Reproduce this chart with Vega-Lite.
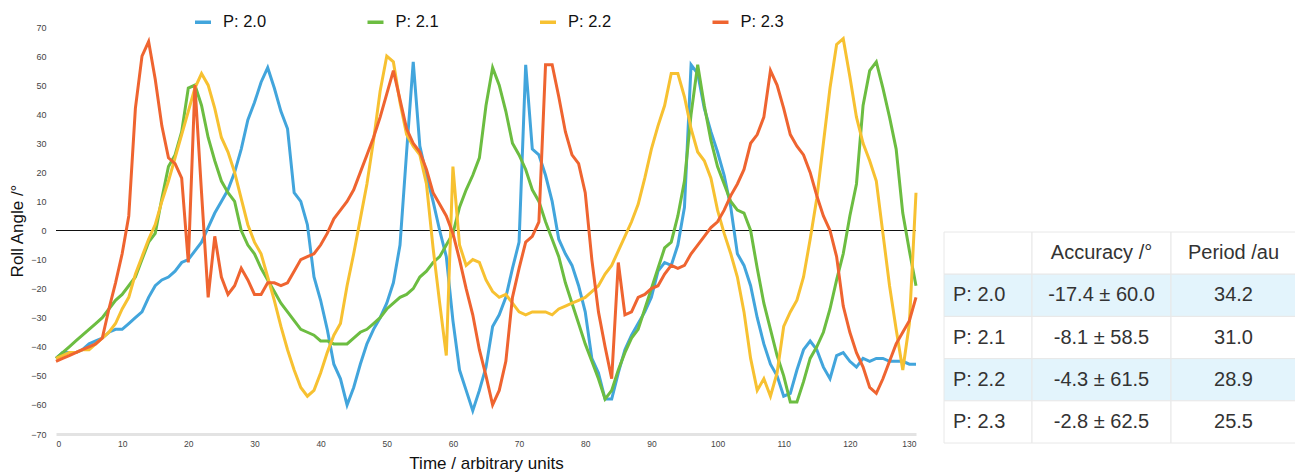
{
  "$schema": "https://vega.github.io/schema/vega-lite/v6.json",
  "padding": {"left": 8, "top": 12, "right": 0, "bottom": 0},
  "background": "white",
  "config": {
    "font": "Liberation Sans",
    "view": {"stroke": null},
    "axisX": {"domainColor": "#e3e3e3", "domainWidth": 3, "ticks": false, "grid": false, "labelFontSize": 8.5, "labelColor": "#444", "labelPadding": 5, "titleFontSize": 17, "titleFontWeight": "normal", "titleColor": "#111", "titlePadding": 8},
    "axisY": {"domain": false, "ticks": false, "grid": false, "labelFontSize": 9, "labelColor": "#444", "labelPadding": 10, "titleFontSize": 17, "titleFontWeight": "normal", "titleColor": "#111", "titlePadding": 4}
  },
  "datasets": {
    "roll": [
      {"t":0,"p20":-44,"p21":-44,"p22":-44,"p23":-45},
      {"t":1,"p20":-42,"p21":-42,"p22":-43,"p23":-44},
      {"t":2,"p20":-42,"p21":-40,"p22":-42,"p23":-43},
      {"t":3,"p20":-42,"p21":-38,"p22":-42,"p23":-42},
      {"t":4,"p20":-41,"p21":-36,"p22":-41,"p23":-41},
      {"t":5,"p20":-39,"p21":-34,"p22":-41,"p23":-40},
      {"t":6,"p20":-38,"p21":-32,"p22":-39,"p23":-39},
      {"t":7,"p20":-37,"p21":-30,"p22":-37,"p23":-37},
      {"t":8,"p20":-35,"p21":-27,"p22":-35,"p23":-27},
      {"t":9,"p20":-34,"p21":-24,"p22":-32,"p23":-18},
      {"t":10,"p20":-34,"p21":-22,"p22":-27,"p23":-8},
      {"t":11,"p20":-32,"p21":-19,"p22":-23,"p23":5},
      {"t":12,"p20":-30,"p21":-16,"p22":-15,"p23":42},
      {"t":13,"p20":-28,"p21":-10,"p22":-9,"p23":60},
      {"t":14,"p20":-23,"p21":-4,"p22":-3,"p23":65},
      {"t":15,"p20":-19,"p21":-1,"p22":2,"p23":52},
      {"t":16,"p20":-17,"p21":11,"p22":10,"p23":36},
      {"t":17,"p20":-16,"p21":22,"p22":17,"p23":25},
      {"t":18,"p20":-14,"p21":26,"p22":25,"p23":23},
      {"t":19,"p20":-11,"p21":34,"p22":33,"p23":18},
      {"t":20,"p20":-10,"p21":49,"p22":41,"p23":-11},
      {"t":21,"p20":-7,"p21":50,"p22":49,"p23":50},
      {"t":22,"p20":-4,"p21":43,"p22":54,"p23":13},
      {"t":23,"p20":1,"p21":32,"p22":50,"p23":-23},
      {"t":24,"p20":6,"p21":24,"p22":42,"p23":-2},
      {"t":25,"p20":10,"p21":17,"p22":32,"p23":-16},
      {"t":26,"p20":14,"p21":13,"p22":27,"p23":-22},
      {"t":27,"p20":20,"p21":10,"p22":20,"p23":-19},
      {"t":28,"p20":28,"p21":0,"p22":11,"p23":-13},
      {"t":29,"p20":38,"p21":-5,"p22":2,"p23":-17},
      {"t":30,"p20":44,"p21":-8,"p22":-4,"p23":-22},
      {"t":31,"p20":51,"p21":-13,"p22":-8,"p23":-22},
      {"t":32,"p20":56,"p21":-17,"p22":-16,"p23":-18},
      {"t":33,"p20":49,"p21":-21,"p22":-24,"p23":-18},
      {"t":34,"p20":41,"p21":-25,"p22":-33,"p23":-19},
      {"t":35,"p20":35,"p21":-28,"p22":-41,"p23":-18},
      {"t":36,"p20":13,"p21":-31,"p22":-48,"p23":-14},
      {"t":37,"p20":10,"p21":-34,"p22":-54,"p23":-10},
      {"t":38,"p20":2,"p21":-35,"p22":-57,"p23":-9},
      {"t":39,"p20":-16,"p21":-36,"p22":-55,"p23":-8},
      {"t":40,"p20":-24,"p21":-38,"p22":-49,"p23":-5},
      {"t":41,"p20":-34,"p21":-38,"p22":-42,"p23":-1},
      {"t":42,"p20":-46,"p21":-39,"p22":-36,"p23":4},
      {"t":43,"p20":-51,"p21":-39,"p22":-32,"p23":7},
      {"t":44,"p20":-60,"p21":-39,"p22":-19,"p23":10},
      {"t":45,"p20":-54,"p21":-37,"p22":-8,"p23":14},
      {"t":46,"p20":-46,"p21":-35,"p22":4,"p23":20},
      {"t":47,"p20":-39,"p21":-34,"p22":16,"p23":26},
      {"t":48,"p20":-34,"p21":-32,"p22":31,"p23":32},
      {"t":49,"p20":-30,"p21":-30,"p22":48,"p23":39},
      {"t":50,"p20":-25,"p21":-27,"p22":60,"p23":47},
      {"t":51,"p20":-18,"p21":-25,"p22":58,"p23":55},
      {"t":52,"p20":-5,"p21":-23,"p22":44,"p23":45},
      {"t":53,"p20":27,"p21":-22,"p22":33,"p23":35},
      {"t":54,"p20":58,"p21":-20,"p22":29,"p23":30},
      {"t":55,"p20":29,"p21":-16,"p22":26,"p23":27},
      {"t":56,"p20":19,"p21":-14,"p22":16,"p23":21},
      {"t":57,"p20":10,"p21":-11,"p22":-6,"p23":13},
      {"t":58,"p20":0,"p21":-9,"p22":-25,"p23":9},
      {"t":59,"p20":-9,"p21":-5,"p22":-43,"p23":5},
      {"t":60,"p20":-31,"p21":-1,"p22":22,"p23":-1},
      {"t":61,"p20":-48,"p21":8,"p22":-5,"p23":-10},
      {"t":62,"p20":-55,"p21":14,"p22":-12,"p23":-20},
      {"t":63,"p20":-62,"p21":19,"p22":-10,"p23":-29},
      {"t":64,"p20":-55,"p21":25,"p22":-11,"p23":-41},
      {"t":65,"p20":-47,"p21":43,"p22":-17,"p23":-50},
      {"t":66,"p20":-33,"p21":56,"p22":-21,"p23":-60},
      {"t":67,"p20":-29,"p21":50,"p22":-23,"p23":-55},
      {"t":68,"p20":-23,"p21":41,"p22":-22,"p23":-45},
      {"t":69,"p20":-13,"p21":30,"p22":-25,"p23":-23},
      {"t":70,"p20":-4,"p21":26,"p22":-28,"p23":-13},
      {"t":71,"p20":57,"p21":21,"p22":-29,"p23":-4},
      {"t":72,"p20":28,"p21":14,"p22":-28,"p23":-2},
      {"t":73,"p20":26,"p21":10,"p22":-28,"p23":3},
      {"t":74,"p20":19,"p21":3,"p22":-28,"p23":57},
      {"t":75,"p20":10,"p21":-3,"p22":-29,"p23":57},
      {"t":76,"p20":-3,"p21":-9,"p22":-27,"p23":46},
      {"t":77,"p20":-8,"p21":-18,"p22":-26,"p23":34},
      {"t":78,"p20":-12,"p21":-25,"p22":-25,"p23":26},
      {"t":79,"p20":-19,"p21":-32,"p22":-24,"p23":23},
      {"t":80,"p20":-28,"p21":-39,"p22":-23,"p23":13},
      {"t":81,"p20":-44,"p21":-45,"p22":-21,"p23":-10},
      {"t":82,"p20":-49,"p21":-51,"p22":-19,"p23":-28},
      {"t":83,"p20":-58,"p21":-58,"p22":-15,"p23":-40},
      {"t":84,"p20":-58,"p21":-55,"p22":-12,"p23":-51},
      {"t":85,"p20":-49,"p21":-48,"p22":-7,"p23":-11},
      {"t":86,"p20":-41,"p21":-42,"p22":-2,"p23":-29},
      {"t":87,"p20":-36,"p21":-37,"p22":3,"p23":-28},
      {"t":88,"p20":-32,"p21":-34,"p22":9,"p23":-23},
      {"t":89,"p20":-28,"p21":-27,"p22":18,"p23":-22},
      {"t":90,"p20":-23,"p21":-20,"p22":28,"p23":-20},
      {"t":91,"p20":-14,"p21":-13,"p22":36,"p23":-19},
      {"t":92,"p20":-11,"p21":-6,"p22":43,"p23":-15},
      {"t":93,"p20":-12,"p21":-4,"p22":54,"p23":-12},
      {"t":94,"p20":-5,"p21":5,"p22":54,"p23":-13},
      {"t":95,"p20":8,"p21":17,"p22":46,"p23":-12},
      {"t":96,"p20":57,"p21":40,"p22":35,"p23":-8},
      {"t":97,"p20":54,"p21":57,"p22":27,"p23":-5},
      {"t":98,"p20":42,"p21":43,"p22":24,"p23":-2},
      {"t":99,"p20":34,"p21":31,"p22":18,"p23":1},
      {"t":100,"p20":27,"p21":22,"p22":7,"p23":3},
      {"t":101,"p20":19,"p21":16,"p22":-1,"p23":7},
      {"t":102,"p20":8,"p21":10,"p22":-8,"p23":12},
      {"t":103,"p20":-8,"p21":7,"p22":-16,"p23":16},
      {"t":104,"p20":-12,"p21":6,"p22":-28,"p23":21},
      {"t":105,"p20":-19,"p21":0,"p22":-44,"p23":30},
      {"t":106,"p20":-30,"p21":-13,"p22":-55,"p23":33},
      {"t":107,"p20":-39,"p21":-25,"p22":-51,"p23":39},
      {"t":108,"p20":-46,"p21":-34,"p22":-57,"p23":55},
      {"t":109,"p20":-50,"p21":-43,"p22":-49,"p23":50},
      {"t":110,"p20":-57,"p21":-50,"p22":-33,"p23":42},
      {"t":111,"p20":-56,"p21":-59,"p22":-28,"p23":33},
      {"t":112,"p20":-48,"p21":-59,"p22":-24,"p23":29},
      {"t":113,"p20":-41,"p21":-52,"p22":-16,"p23":26},
      {"t":114,"p20":-38,"p21":-44,"p22":-3,"p23":20},
      {"t":115,"p20":-41,"p21":-40,"p22":11,"p23":12},
      {"t":116,"p20":-47,"p21":-35,"p22":30,"p23":5},
      {"t":117,"p20":-51,"p21":-27,"p22":49,"p23":0},
      {"t":118,"p20":-43,"p21":-17,"p22":64,"p23":-9},
      {"t":119,"p20":-42,"p21":-8,"p22":66,"p23":-26},
      {"t":120,"p20":-45,"p21":5,"p22":53,"p23":-35},
      {"t":121,"p20":-47,"p21":16,"p22":39,"p23":-42},
      {"t":122,"p20":-44,"p21":43,"p22":30,"p23":-47},
      {"t":123,"p20":-45,"p21":55,"p22":24,"p23":-54},
      {"t":124,"p20":-44,"p21":58,"p22":17,"p23":-56},
      {"t":125,"p20":-44,"p21":49,"p22":-1,"p23":-51},
      {"t":126,"p20":-45,"p21":39,"p22":-19,"p23":-45},
      {"t":127,"p20":-45,"p21":28,"p22":-34,"p23":-39},
      {"t":128,"p20":-45,"p21":6,"p22":-48,"p23":-35},
      {"t":129,"p20":-46,"p21":-7,"p22":-32,"p23":-31},
      {"t":130,"p20":-46,"p21":-19,"p22":13,"p23":-23}
    ],
    "tbl": [
      {"r":0,"name":"","acc":"Accuracy /°","per":"Period /au","shade":false},
      {"r":1,"name":"P: 2.0","acc":"-17.4 ± 60.0","per":"34.2","shade":true},
      {"r":2,"name":"P: 2.1","acc":"-8.1 ± 58.5","per":"31.0","shade":false},
      {"r":3,"name":"P: 2.2","acc":"-4.3 ± 61.5","per":"28.9","shade":true},
      {"r":4,"name":"P: 2.3","acc":"-2.8 ± 62.5","per":"25.5","shade":false}
    ]
  },
  "hconcat": [
    {
      "width": 860,
      "height": 407,
      "layer": [
        {
          "data": {"values": [{"zero": 0}]},
          "mark": {"type": "rule", "color": "#111", "strokeWidth": 1},
          "encoding": {
            "y": {"field": "zero", "type": "quantitative", "title": "Roll Angle /°", "scale": {"domain": [-70, 70], "nice": false}}
          }
        },
        {
          "data": {"name": "roll"},
          "mark": {"type": "line", "strokeWidth": 3},
          "encoding": {
            "x": {"field": "t", "type": "quantitative", "title": "Time / arbitrary units", "scale": {"domain": [0, 130], "nice": false}, "axis": {"tickCount": 13, "labelOverlap": false}},
            "y": {"field": "p20", "type": "quantitative", "title": "Roll Angle /°", "axis": {"tickCount": 14, "labelOverlap": false, "labelFontSize": 9}},
            "color": {
              "datum": "P: 2.0",
              "type": "nominal",
              "scale": {"domain": ["P: 2.0", "P: 2.1", "P: 2.2", "P: 2.3"], "range": ["#42a5dc", "#6cbd41", "#f7c131", "#ef6430"]},
              "legend": {"title": null, "orient": "none", "legendX": 137, "legendY": -15, "direction": "horizontal", "columns": 4, "columnPadding": 93.5, "symbolType": "stroke", "symbolSize": 256, "symbolStrokeWidth": 3.5, "labelFontSize": 16.5, "labelColor": "#111", "labelOffset": 10}
            }
          }
        },
        {
          "data": {"name": "roll"},
          "mark": {"type": "line", "strokeWidth": 3},
          "encoding": {
            "x": {"field": "t", "type": "quantitative", "title": "Time / arbitrary units"},
            "y": {"field": "p21", "type": "quantitative", "title": "Roll Angle /°"},
            "color": {"datum": "P: 2.1", "type": "nominal"}
          }
        },
        {
          "data": {"name": "roll"},
          "mark": {"type": "line", "strokeWidth": 3},
          "encoding": {
            "x": {"field": "t", "type": "quantitative", "title": "Time / arbitrary units"},
            "y": {"field": "p22", "type": "quantitative", "title": "Roll Angle /°"},
            "color": {"datum": "P: 2.2", "type": "nominal"}
          }
        },
        {
          "data": {"name": "roll"},
          "mark": {"type": "line", "strokeWidth": 3},
          "encoding": {
            "x": {"field": "t", "type": "quantitative", "title": "Time / arbitrary units"},
            "y": {"field": "p23", "type": "quantitative", "title": "Roll Angle /°"},
            "color": {"datum": "P: 2.3", "type": "nominal"}
          }
        }
      ]
    },
    {
      "spacing": 0,
      "bounds": "flush",
      "hconcat": [
        {
          "width": 88,
          "height": 416,
          "data": {"name": "tbl"},
          "encoding": {
            "y": {"field": "r", "type": "ordinal", "axis": null, "scale": {"type": "band", "paddingInner": 0, "paddingOuter": 0, "range": [205, 416]}}
          },
          "layer": [
            {"mark": {"type": "rect", "stroke": "#e8e8e8", "strokeWidth": 1}, "encoding": {"fill": {"condition": {"test": "datum.shade", "value": "#e3f4fc"}, "value": "#ffffff"}}},
            {"mark": {"type": "text", "align": "left", "dx": -35, "fontSize": 20, "color": "#333"}, "encoding": {"text": {"field": "name"}}}
          ]
        },
        {
          "width": 139,
          "height": 416,
          "data": {"name": "tbl"},
          "encoding": {
            "y": {"field": "r", "type": "ordinal", "axis": null, "scale": {"type": "band", "paddingInner": 0, "paddingOuter": 0, "range": [205, 416]}}
          },
          "layer": [
            {"mark": {"type": "rect", "stroke": "#e8e8e8", "strokeWidth": 1}, "encoding": {"fill": {"condition": {"test": "datum.shade", "value": "#e3f4fc"}, "value": "#ffffff"}}},
            {"mark": {"type": "text", "align": "center", "fontSize": 20, "color": "#333"}, "encoding": {"text": {"field": "acc"}}}
          ]
        },
        {
          "width": 125,
          "height": 416,
          "data": {"name": "tbl"},
          "encoding": {
            "y": {"field": "r", "type": "ordinal", "axis": null, "scale": {"type": "band", "paddingInner": 0, "paddingOuter": 0, "range": [205, 416]}}
          },
          "layer": [
            {"mark": {"type": "rect", "stroke": "#e8e8e8", "strokeWidth": 1}, "encoding": {"fill": {"condition": {"test": "datum.shade", "value": "#e3f4fc"}, "value": "#ffffff"}}},
            {"mark": {"type": "text", "align": "center", "fontSize": 20, "color": "#333"}, "encoding": {"text": {"field": "per"}}}
          ]
        }
      ]
    }
  ],
  "spacing": 28,
  "bounds": "flush"
}
